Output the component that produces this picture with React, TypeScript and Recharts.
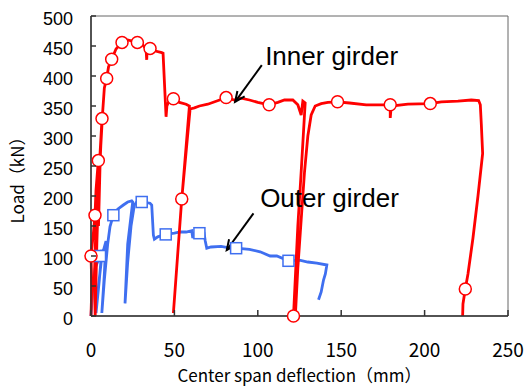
import {
  Line,
  LineChart,
  ReferenceArea,
  ReferenceDot,
  ReferenceLine,
  XAxis,
  YAxis,
} from "recharts";

const RED = "#ff0000";
const BLUE = "#3f6ff0";
const AXIS = "#333333";

const xTicks = [0, 50, 100, 150, 200, 250];
const yTicks = [0, 50, 100, 150, 200, 250, 300, 350, 400, 450, 500];

// [deflection mm, load kN]
const innerGirder: [number, number][] = [
  [0, 0], [0.5, 50], [0, 100], [1.5, 140], [2.4, 168], [3, 210], [4.4, 259],
  [3.5, 200], [2, 60], [2.5, 0], [3.5, 120], [5, 250], [6.6, 329], [5.5, 260],
  [4.5, 150], [5.2, 250], [7, 340], [8, 380], [9.4, 396], [10.5, 415],
  [12.4, 428], [15, 445], [18.6, 456], [22, 460], [27.8, 456], [31, 452],
  [33, 445], [33.4, 427], [33.7, 448], [35.4, 446], [38, 442], [42.4, 439],
  [43.2, 438], [45, 332], [45.5, 350], [47, 360], [49.4, 362], [53, 356],
  [57, 353], [59, 350], [54, 180], [49.4, 5], [54.4, 195], [59.4, 345],
  [62, 347], [65, 350], [70, 353], [75, 358], [81, 364], [86, 360], [90, 363],
  [95, 360], [100, 356], [106.8, 352], [112, 356], [116, 360], [121, 360],
  [124, 352], [126, 335], [127, 358], [128.4, 355], [126, 240], [124, 150],
  [121.4, 0], [122.5, 0], [124, 80], [126, 160], [128, 240], [130, 300],
  [132, 335], [134.4, 350], [138, 354], [142, 356], [147.8, 357], [155, 355],
  [165, 352], [172, 352], [179.4, 352], [179.4, 330], [180, 350], [190, 353],
  [203.4, 354], [210, 357], [220, 358], [228, 360], [232.4, 359], [233.4, 352],
  [234, 320], [234.8, 271], [232, 200], [229, 130], [226, 70], [224.4, 45],
  [223, 20], [222.8, 0],
];

const innerMarkers: [number, number][] = [
  [0, 100], [2.4, 168], [4.4, 259], [6.6, 329], [9.4, 396], [12.4, 428],
  [18.6, 456], [27.8, 456], [35.4, 446], [49.4, 362], [54.4, 195], [81, 364],
  [106.8, 352], [121.4, 0], [147.8, 357], [179.4, 352], [203.4, 354], [224.4, 45],
];

const outerGirder: [number, number][] = [
  [0, 0], [1, 45], [2.5, 80], [5.4, 100], [6.5, 110], [5, 60], [3, 5],
  [4.5, 50], [6.5, 100], [8, 115], [9, 125], [8, 70], [6.5, 5], [8, 60],
  [10, 120], [11.4, 149], [13.4, 168], [16, 178], [19.4, 185], [22, 190],
  [24.4, 192], [25, 190], [22, 120], [20.4, 21], [22, 90], [24, 150],
  [26, 185], [27.4, 190], [30.4, 190], [33, 189], [35.4, 188], [36.4, 185],
  [37.4, 135], [38, 128], [40, 132], [44.8, 136], [50, 138], [53.4, 140],
  [57, 140], [60.4, 142], [61, 130], [62, 138], [65, 138], [67.8, 138],
  [68.5, 125], [69.4, 113], [72, 115], [78, 116], [82, 114], [87, 113],
  [95, 111], [101.4, 107], [107.4, 100], [111.4, 100], [118.4, 92], [125, 93],
  [130, 90], [135.4, 88], [141.4, 85], [140.5, 70], [139.4, 60], [138, 40],
  [136.4, 27],
];

const outerMarkers: [number, number][] = [
  [5.4, 100], [13.4, 168], [30.4, 190], [44.8, 136], [65, 138], [87, 113], [118.4, 92],
];

const toPoints = (arr: [number, number][]) => arr.map(([x, y]) => ({ x, y }));

function YTick(props: any) {
  const { x, y, payload } = props;
  return (
    <g>
      <line x1={x + 18} x2={x + 23} y1={y} y2={y} stroke={AXIS} strokeWidth={1.5} />
      <text
        x={x}
        y={y + 3}
        textAnchor="end"
        dominantBaseline="central"
        fontFamily="'Liberation Sans', Arial, sans-serif"
        fontSize={18}
        fill="#000"
      >
        {payload.value}
      </text>
    </g>
  );
}

function XTick(props: any) {
  const { x, y, payload } = props;
  return (
    <g>
      <line x1={x} x2={x} y1={y - 28} y2={y - 34} stroke={AXIS} strokeWidth={1.5} />
      <text
        x={x}
        y={y}
        dy="0.71em"
        textAnchor="middle"
        fontFamily="'Noto Sans CJK JP', sans-serif"
        fontSize={19}
        fill="#000"
      >
        {payload.value}
      </text>
    </g>
  );
}

function Circle(props: any) {
  const { cx, cy, index } = props;
  return (
    <circle key={index} cx={cx} cy={cy} r={6} fill="#fff" stroke={RED} strokeWidth={1.5} />
  );
}

function Square(props: any) {
  const { cx, cy, index } = props;
  return (
    <rect
      key={index}
      x={cx - 5.5}
      y={cy - 5.5}
      width={11}
      height={11}
      fill="#fff"
      stroke={BLUE}
      strokeWidth={1.5}
    />
  );
}

function Arrow(props: any) {
  const { x1, y1, x2, y2 } = props;
  const a = Math.atan2(y2 - y1, x2 - x1);
  const len = 11;
  const spread = 0.42;
  const l = [x2 - len * Math.cos(a - spread), y2 - len * Math.sin(a - spread)];
  const r = [x2 - len * Math.cos(a + spread), y2 - len * Math.sin(a + spread)];
  return (
    <g>
      <line x1={x1} y1={y1} x2={x2} y2={y2} stroke="#000" strokeWidth={2} />
      <polyline
        points={`${l[0]},${l[1]} ${x2},${y2} ${r[0]},${r[1]}`}
        fill="none"
        stroke="#000"
        strokeWidth={2}
      />
    </g>
  );
}

const labelShape = (text: string) => (props: any) => (
  <text
    x={props.cx}
    y={props.cy}
    fontFamily="'Liberation Sans', Arial, sans-serif"
    fontSize={26}
    fill="#000"
  >
    {text}
  </text>
);

export default function App() {
  return (
    <div style={{ position: "absolute", left: 0, top: 0, background: "#fff" }}>
      <LineChart
        width={527}
        height={387}
        margin={{ top: 16, right: 19, bottom: 0, left: 0 }}
      >
        <ReferenceArea
          x1={0}
          x2={250}
          y1={0}
          y2={500}
          fill="none"
          stroke="#666"
          strokeWidth={1}
        />
        <XAxis
          type="number"
          dataKey="x"
          domain={[0, 250]}
          ticks={xTicks}
          height={71}
          tickSize={0}
          tickMargin={28}
          tickLine={false}
          axisLine={{ stroke: AXIS, strokeWidth: 1.5 }}
          tick={<XTick />}
          label={{
            value: "Center span deflection（mm）",
            position: "insideBottom",
            offset: 0,
            dy: -5,
            fontFamily: "'Noto Sans CJK JP', sans-serif",
            fontSize: 17,
            fill: "#000",
          }}
        />
        <YAxis
          type="number"
          dataKey="y"
          domain={[0, 500]}
          ticks={yTicks}
          width={91}
          tickSize={0}
          tickMargin={18}
          tickLine={false}
          axisLine={{ stroke: AXIS, strokeWidth: 1.5 }}
          tick={<YTick />}
          label={{
            value: "Load（kN）",
            angle: -90,
            position: "insideLeft",
            offset: 0,
            dx: 18,
            dy: 10,
            style: { textAnchor: "middle" },
            fontFamily: "'Noto Sans CJK JP', sans-serif",
            fontSize: 17,
            fill: "#000",
          }}
        />
        <Line
          data={toPoints(outerGirder)}
          dataKey="y"
          stroke={BLUE}
          strokeWidth={2.8}
          dot={false}
          isAnimationActive={false}
        />
        <Line
          data={toPoints(innerGirder)}
          dataKey="y"
          stroke={RED}
          strokeWidth={2.8}
          dot={false}
          isAnimationActive={false}
        />
        <Line
          data={toPoints(outerMarkers)}
          dataKey="y"
          stroke="none"
          dot={Square}
          isAnimationActive={false}
        />
        <Line
          data={toPoints(innerMarkers)}
          dataKey="y"
          stroke="none"
          dot={Circle}
          isAnimationActive={false}
        />
        <ReferenceLine
          segment={[
            { x: 102.4, y: 418 },
            { x: 86.4, y: 357 },
          ]}
          shape={Arrow}
        />
        <ReferenceLine
          segment={[
            { x: 97.4, y: 171 },
            { x: 81.4, y: 110 },
          ]}
          shape={Arrow}
        />
        <ReferenceDot x={104.4} y={418} r={0} shape={labelShape("Inner girder")} />
        <ReferenceDot x={101.4} y={182} r={0} shape={labelShape("Outer girder")} />
      </LineChart>
    </div>
  );
}
